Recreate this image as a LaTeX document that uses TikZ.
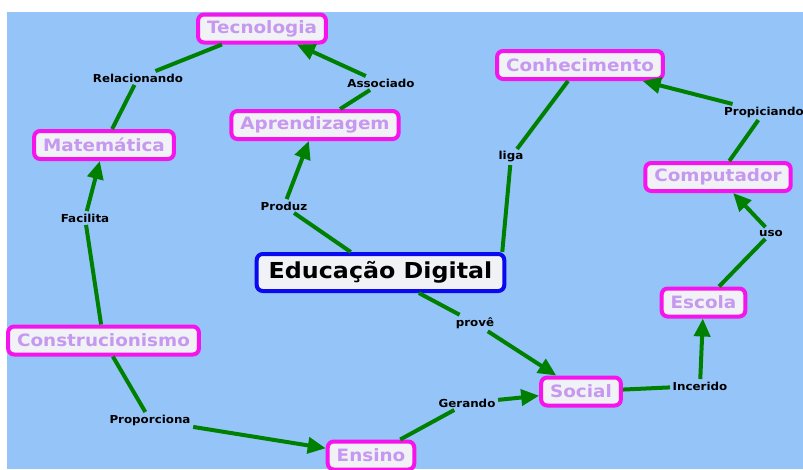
\documentclass[tikz,border=0pt]{standalone}
\usepackage{fontspec}
\setmainfont{DejaVu Sans}[FakeStretch=1.08]
\usetikzlibrary{arrows.meta}
\definecolor{bgblue}{RGB}{149,197,248}
\definecolor{linkgreen}{RGB}{0,128,0}
\definecolor{conceptedge}{RGB}{245,20,235}
\definecolor{concepttext}{RGB}{198,152,240}
\definecolor{conceptfill}{RGB}{240,242,246}
\definecolor{mainedge}{RGB}{10,10,240}
\begin{document}
\begin{tikzpicture}[x=1pt,y=-1pt,
  concept/.style={draw=conceptedge, line width=4pt, rounded corners=6pt,
    fill=conceptfill, text=concepttext, inner xsep=9pt, inner ysep=0pt,
    minimum height=28pt, font=\fontsize{17}{20}\bfseries\selectfont},
  mainconcept/.style={concept, draw=mainedge, text=black, minimum height=37pt,
    inner xsep=12pt, font=\fontsize{22}{25}\bfseries\selectfont},
  linklabel/.style={text=black, inner sep=2.5pt, font=\fontsize{11}{13}\bfseries\selectfont},
  link/.style={draw=linkgreen, line width=4pt},
  arrowlink/.style={link, -{Triangle[length=18pt,width=16pt]}}]
\useasboundingbox (0,0) rectangle (803,469);
\fill[white] (0,0) rectangle (803,469);
\fill[bgblue] (7,12) rectangle (803,469);

% concepts
\node[concept] (tec) at (262,28.5) {Tecnologia};
\node[concept] (con) at (580,65) {Conhecimento};
\node[concept] (apr) at (315,125) {Aprendizagem};
\node[concept] (mat) at (104,145) {Matemática};
\node[concept] (comp) at (718,177) {Computador};
\node[mainconcept] (ed) at (380.5,272.5) {Educação Digital};
\node[concept] (esc) at (703.5,302.5) {Escola};
\node[concept] (cons) at (103.5,340.5) {Construcionismo};
\node[concept] (soc) at (581,391.5) {Social};
\node[concept] (ens) at (371,455.5) {Ensino};

% link phrases
\node[linklabel] (relac) at (138,78) {Relacionando};
\node[linklabel] (assoc) at (381,83) {Associado};
\node[linklabel] (prod) at (284,206) {Produz};
\node[linklabel] (facil) at (85,218) {Facilita};
\node[linklabel] (liga) at (511,157) {liga};
\node[linklabel] (propic) at (764,112) {Propiciando};
\node[linklabel] (uso) at (771,233) {uso};
\node[linklabel] (prove) at (475,323) {provê};
\node[linklabel] (incer) at (700,386) {Incerido};
\node[linklabel] (ger) at (467,403) {Gerando};
\node[linklabel] (propor) at (150,420) {Proporciona};

% connectors
\draw[link] (mat) -- (relac);
\draw[link] (relac) -- (tec);
\draw[link] (apr) -- (assoc);
\draw[arrowlink] (assoc) -- (tec);
\draw[link] (ed) -- (prod);
\draw[arrowlink] (prod) -- (apr);
\draw[link] ([xshift=-4pt]ed.north east) -- (liga);
\draw[link] (liga) -- (con);
\draw[link] (comp) -- (propic);
\draw[arrowlink] (propic) -- (con);
\draw[link] (esc) -- (uso);
\draw[arrowlink] (uso) -- (comp);
\draw[link] (soc) -- (incer);
\draw[arrowlink] (incer) -- (esc);
\draw[link] (ed) -- (prove);
\draw[arrowlink] (prove) -- (soc);
\draw[link] (ens) -- (ger);
\draw[arrowlink] (ger) -- (soc);
\draw[link] (cons) -- (propor);
\draw[arrowlink] (propor) -- (ens);
\draw[link] (cons) -- (facil);
\draw[arrowlink] (facil) -- (mat);
\end{tikzpicture}
\end{document}
